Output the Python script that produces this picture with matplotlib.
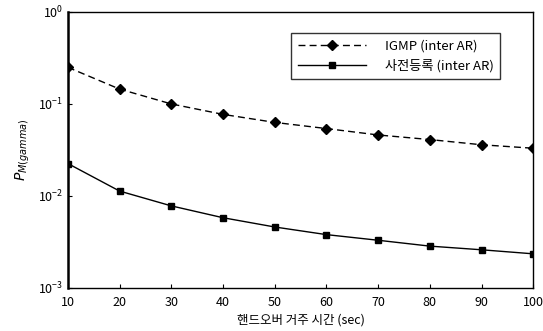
import numpy as np
import matplotlib.pyplot as plt

plt.rcParams['font.family'] = ['Noto Sans CJK KR', 'DejaVu Sans']

# handover dwell time (sec)
x = [10, 20, 30, 40, 50, 60, 70, 80, 90, 100]
igmp = [0.25, 0.145, 0.10, 0.077, 0.063, 0.054, 0.046, 0.041, 0.036, 0.033]
prereg = [0.0225, 0.0113, 0.0078, 0.0058, 0.0046, 0.0038, 0.0033, 0.00285, 0.0026, 0.00235]
xticks = [10, 20, 30, 40, 50, 60, 70, 80, 90, 100]

fig = plt.figure(figsize=(5.43, 3.31), dpi=100)
ax = fig.add_axes([0.125, 0.130, 0.857, 0.834])

ax.plot(x, igmp, 'k--', marker='D', markersize=5, linewidth=1, dashes=(5, 3),
        label='IGMP (inter AR)')
ax.plot(x, prereg, 'k-', marker='s', markersize=5, linewidth=1,
        label='사전등록 (inter AR)')

ax.set_yscale('log')
ax.set_ylim(1e-3, 1)
ax.set_xlim(10, 100)
ax.set_xticks(xticks)
ax.set_yticks([1e-3, 1e-2, 1e-1, 1])
ax.minorticks_off()
ax.tick_params(direction='in', labelsize=9, length=3)
ax.tick_params(axis='x', pad=6)

ax.set_xlabel('핸드오버 거주 시간 (sec)', fontsize=9, labelpad=3)
ax.set_ylabel(r'$P_{M(gamma)}$', fontsize=10, labelpad=4)

for s in ax.spines.values():
    s.set_linewidth(1)
ax.spines['left'].set_linewidth(1.8)

leg = ax.legend(loc='upper right', bbox_to_anchor=(0.929, 0.924), borderaxespad=0,
                fontsize=9.5, frameon=True, fancybox=False, edgecolor='black',
                handlelength=5.2, handletextpad=1.4, borderpad=0.5, labelspacing=0.5)
leg.get_frame().set_linewidth(1)

fig.savefig('out.png', dpi=100)
